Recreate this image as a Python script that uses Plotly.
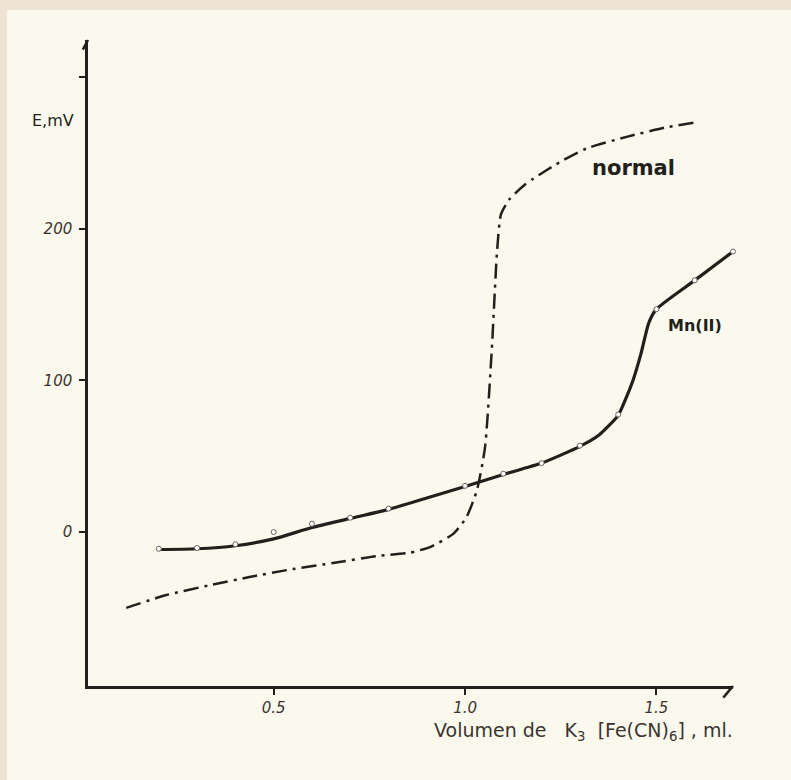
import plotly.graph_objects as go

# ---- data ----
mn_points_x = [0.2, 0.3, 0.4, 0.5, 0.6, 0.7, 0.8, 1.0, 1.1, 1.2, 1.3, 1.4, 1.5, 1.6, 1.7]
mn_points_y = [-11, -10.5, -8, 0, 5.5, 9.5, 15.5, 30.5, 38.5, 45.5, 57, 77.5, 147, 166, 185]

mn_curve_x = [0.2, 0.3, 0.4, 0.5, 0.6, 0.7, 0.8, 0.9, 1.0, 1.1, 1.2, 1.3, 1.35, 1.4,
              1.42, 1.44, 1.46, 1.48, 1.5, 1.6, 1.7]
mn_curve_y = [-11.5, -11, -9, -4.5, 3, 9, 15, 22.5, 30, 38, 45.5, 56.5, 64, 77,
              88, 101, 118, 138, 147, 166, 185]

normal_x = [0.115, 0.22, 0.334, 0.44, 0.55, 0.655, 0.77, 0.856, 0.91, 0.97, 1.004,
            1.031, 1.052, 1.07, 1.084, 1.094, 1.116, 1.156, 1.178, 1.248, 1.318,
            1.422, 1.527, 1.60]
normal_y = [-50, -41.5, -35, -29.5, -24.4, -20.4, -15.8, -13.6, -9.7, -1, 10,
            27.7, 55.5, 121, 186.6, 209.6, 219.5, 229, 233, 244, 253,
            260.6, 267, 270]

x_tickvals = [0.5, 1.0, 1.5]
x_ticktext = ["0.5", "1.0", "1.5"]
y_tickvals = [0, 100, 200, 300]
y_ticktext = ["0", "100", "200", " "]

INK = "#231f1c"
SOFT_INK = "#3a3430"
PAPER = "#fbf9ed"
FRAME = "#eee3d2"
FONT = "DejaVu Sans"

fig = go.Figure()

fig.add_trace(go.Scatter(
    x=normal_x, y=normal_y, mode="lines",
    line=dict(color=INK, width=2.5, dash="15px,6px,3px,6px", shape="spline", smoothing=0.6),
    hoverinfo="skip", showlegend=False))

fig.add_trace(go.Scatter(
    x=mn_curve_x, y=mn_curve_y, mode="lines",
    line=dict(color=INK, width=3.2, shape="spline", smoothing=0.6),
    hoverinfo="skip", showlegend=False, cliponaxis=False))

fig.add_trace(go.Scatter(
    x=mn_points_x, y=mn_points_y, mode="markers",
    marker=dict(symbol="circle", size=5, color="white", line=dict(color="#6a625a", width=1)),
    showlegend=False, cliponaxis=False))

tickfont = dict(family=FONT, size=15, color=SOFT_INK, style="italic")

fig.update_xaxes(range=[0.015, 1.70], showline=True, linecolor=INK, linewidth=2.5,
                 showgrid=False, zeroline=False, ticks="outside", ticklen=6, tickwidth=1.5,
                 tickcolor=INK, tickvals=x_tickvals, ticktext=x_ticktext, tickfont=tickfont)
fig.update_yaxes(range=[-101.5, 324.5], showline=True, linecolor=INK, linewidth=2.5,
                 showgrid=False, zeroline=False, ticks="outside", ticklen=6, tickwidth=1.5,
                 tickcolor=INK, tickvals=y_tickvals, ticktext=y_ticktext, tickfont=tickfont,
                 ticklabelstandoff=4)

shapes = [
    # paper frame strips (top and left edge of the photographed sheet)
    dict(type="rect", xref="paper", yref="paper", x0=-0.2, x1=1.2, y0=1.0464, y1=1.1,
         fillcolor=FRAME, line=dict(width=0), layer="below"),
    dict(type="rect", xref="paper", yref="paper", x0=-0.2, x1=-0.1255, y0=-0.2, y1=1.1,
         fillcolor=FRAME, line=dict(width=0), layer="below"),
    # hand-drawn arrow flicks at the axis ends
    dict(type="line", xref="x domain", yref="y domain", x0=1.0, y0=0.0, x1=0.985, y1=-0.018,
         line=dict(color=INK, width=2.5)),
    dict(type="line", xref="x domain", yref="y domain", x0=0.0, y0=1.0, x1=-0.008, y1=0.985,
         line=dict(color=INK, width=2.5)),
]

annotations = [
    dict(x=1.44, y=240, xref="x", yref="y", text="<b>normal</b>", showarrow=False,
         xanchor="center", yanchor="middle",
         font=dict(family=FONT, size=21, color=INK)),
    dict(x=1.60, y=136.5, xref="x", yref="y", text="<b>Mn(II)</b>", showarrow=False,
         xanchor="center", yanchor="middle",
         font=dict(family=FONT, size=16, color=INK)),
    dict(x=-0.0543, y=271.5, xref="paper", yref="y", text="E,mV", showarrow=False,
         xanchor="center", yanchor="middle",
         font=dict(family=FONT, size=16, color=INK)),
    dict(x=1.003, y=-0.0697, xref="paper", yref="paper", xanchor="right", yanchor="middle",
         text="Volumen de\u00a0\u00a0 K<sub>3</sub>\u00a0 [Fe(CN)<sub>6</sub>]\u00a0, ml.",
         showarrow=False, font=dict(family=FONT, size=19, color=SOFT_INK)),
]

fig.update_layout(
    width=791, height=780,
    margin=dict(l=88, r=58, t=40, b=94),
    paper_bgcolor=PAPER, plot_bgcolor=PAPER,
    shapes=shapes, annotations=annotations,
)

fig.write_html("out.html")
